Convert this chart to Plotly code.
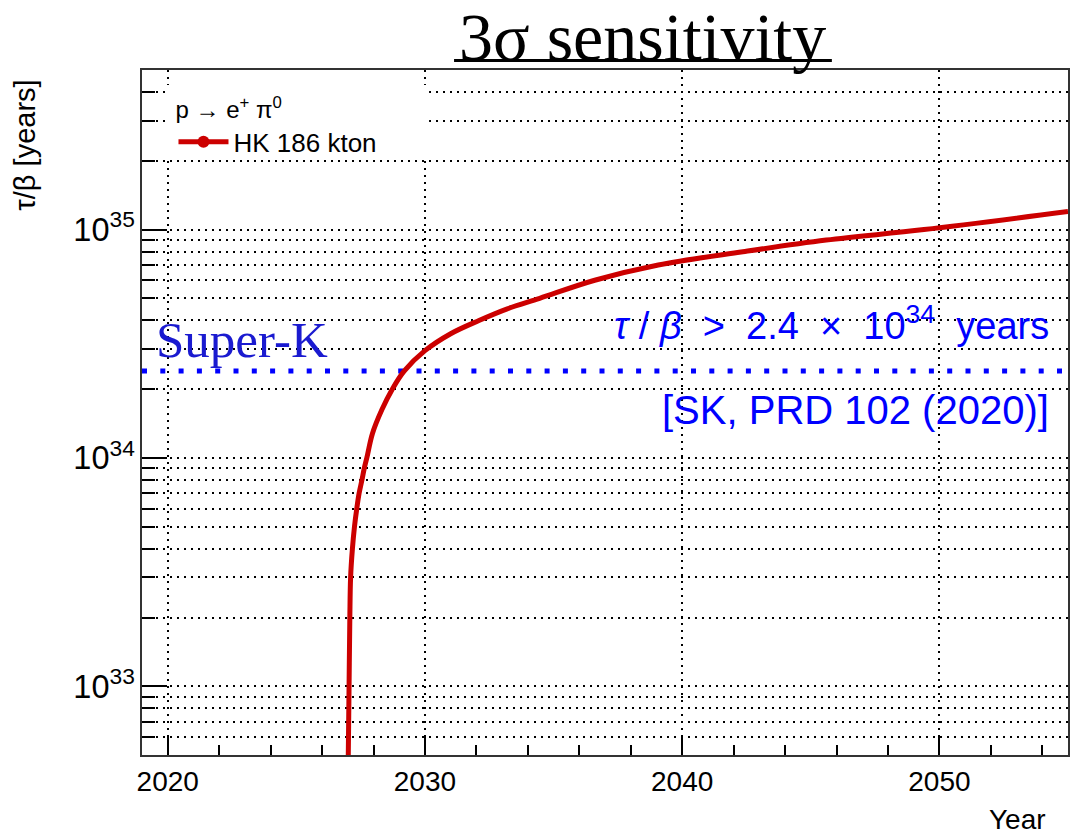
import math
import plotly.graph_objects as go

# ---- data ----
years = [2027.02, 2027.05, 2027.08, 2027.11, 2027.18, 2027.26, 2027.35, 2027.44,
         2027.55, 2027.64, 2027.74, 2027.96, 2028.32, 2028.73, 2029.19, 2030.0,
         2031.0, 2032.1, 2033.2, 2034.46, 2036.6, 2039.07, 2042.36, 2045.6, 2049.4, 2055.0]
tau_over_beta = [5e32, 1e33, 2e33, 3e33, 4e33, 5e33, 6e33, 7e33,
                 8e33, 9e33, 1e34, 1.28e34, 1.62e34, 2e34, 2.4e34, 2.95e34,
                 3.5e34, 4e34, 4.5e34, 5e34, 6e34, 7e34, 8e34, 9e34, 1e35, 1.2e35]
SK_LIMIT = 2.4e34
X_RANGE = [2019, 2055]
Y_RANGE_VALUES = [5e32, 5e35]

y_range_log = [math.log10(v) for v in Y_RANGE_VALUES]

RED = "#cc0000"
BLUE = "#0000ff"
SANS = "Liberation Sans, Arial, sans-serif"
SERIF = "Liberation Serif, Times New Roman, serif"

fig = go.Figure()

# Super-K limit line
fig.add_trace(go.Scatter(
    x=X_RANGE, y=[SK_LIMIT, SK_LIMIT], mode="lines",
    line=dict(color=BLUE, width=5, dash="5px,13.3px"),
    showlegend=False, hoverinfo="skip"))

# HK sensitivity curve
fig.add_trace(go.Scatter(
    x=years, y=tau_over_beta, mode="lines",
    line=dict(color=RED, width=5, shape="spline", smoothing=1.0),
    showlegend=False))

# legend-only entry
fig.add_trace(go.Scatter(
    x=[None], y=[None], mode="lines+markers", name="HK 186 kton",
    line=dict(color=RED, width=5), marker=dict(color=RED, size=12)))

grid_dash = "2px,5px"

fig.update_layout(
    width=1077, height=834,
    margin=dict(l=142, r=7, t=70, b=79),
    paper_bgcolor="white", plot_bgcolor="white",
    font=dict(family=SANS, size=26, color="black"),
    xaxis=dict(
        range=X_RANGE, tick0=2020, dtick=10,
        ticks="inside", ticklen=18, tickwidth=1.5, tickcolor="black",
        showgrid=True, gridcolor="black", gridwidth=1.5, griddash=grid_dash,
        showline=True, linecolor="#333", linewidth=2, mirror=True,
        tickfont=dict(family=SANS, size=28),
        minor=dict(dtick=2, ticks="inside", ticklen=10, tickwidth=1.5,
                   tickcolor="black", showgrid=False),
        zeroline=False,
    ),
    yaxis=dict(
        type="log", range=y_range_log, dtick=1, exponentformat="power",
        ticks="inside", ticklen=25, tickwidth=1.5, tickcolor="black",
        showgrid=True, gridcolor="black", gridwidth=1.5, griddash=grid_dash,
        showline=True, linecolor="#333", linewidth=2, mirror=True,
        tickfont=dict(family=SANS, size=26),
        minor=dict(dtick="D1", ticks="inside", ticklen=13, tickwidth=1.5,
                   tickcolor="black", showgrid=True, gridcolor="black",
                   gridwidth=1.5, griddash=grid_dash),
        zeroline=False,
    ),
    legend=dict(
        x=0.034, y=0.975, xanchor="left", yanchor="top",
        bgcolor="rgba(255,255,255,0)", borderwidth=0,
        title=dict(text="p → e<sup>+</sup> π<sup>0</sup>", font=dict(family=SANS, size=24)),
        font=dict(family=SANS, size=26),
        itemwidth=50,
    ),
    shapes=[
        # white legend box hiding the grid behind it
        dict(type="rect", xref="paper", yref="paper",
             x0=0.025, x1=0.31, y0=0.87, y1=0.978,
             fillcolor="white", line=dict(width=0), layer="above"),
        # title underline
        dict(type="line", xref="paper", yref="paper",
             x0=0.337, x1=0.745, y0=1.014, y1=1.014,
             line=dict(color="black", width=3)),
    ],
)

annotations = [
    dict(text="3σ sensitivity", x=0.54, y=1.048, xref="paper", yref="paper",
         xanchor="center", yanchor="middle", showarrow=False,
         font=dict(family=SERIF, size=68, color="black")),
    dict(text="τ/β [years]", x=-0.126, y=0.89, xref="paper", yref="paper",
         xanchor="center", yanchor="middle", textangle=-90, showarrow=False,
         font=dict(family=SANS, size=29, color="black")),
    dict(text="Year", x=0.978, y=-0.094, xref="paper", yref="paper",
         xanchor="right", yanchor="middle", showarrow=False,
         font=dict(family=SANS, size=28, color="black")),
    dict(text="Super-K", x=0.013, y=0.606, xref="paper", yref="paper",
         xanchor="left", yanchor="middle", showarrow=False,
         font=dict(family=SERIF, size=51, color="#1a1ad0")),
    dict(text="<i>τ</i> / <i>β</i>  >  2.4  ×  10<sup>34</sup>  years", x=0.9817, y=0.630,
         xref="paper", yref="paper", xanchor="right", yanchor="middle", showarrow=False,
         font=dict(family=SANS, size=38, color=BLUE)),
    dict(text="[SK, PRD 102 (2020)]", x=0.982, y=0.504, xref="paper", yref="paper",
         xanchor="right", yanchor="middle", showarrow=False,
         font=dict(family=SANS, size=40, color=BLUE)),
]
fig.update_layout(annotations=annotations)

fig.write_html("out.html")
